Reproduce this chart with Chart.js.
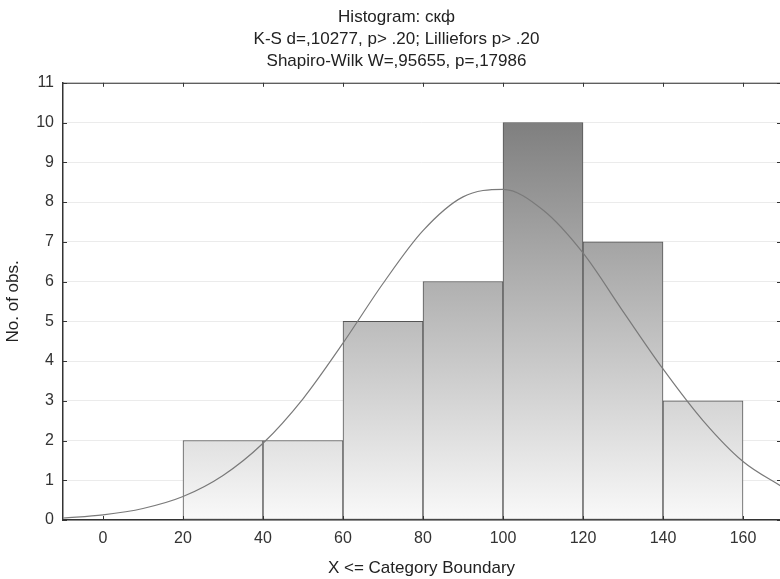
<!DOCTYPE html>
<html>
<head>
<meta charset="utf-8">
<script src="https://cdn.jsdelivr.net/npm/chart.js@4.4.1/dist/chart.umd.min.js"></script>
<style>
  html, body { margin: 0; padding: 0; background: #fff; }
  #wrap { width: 780px; height: 579px; }
</style>
</head>
<body>
<div id="wrap"><canvas id="hist"></canvas></div>
<script>
// bin centres (bins are 20 wide) and observed counts
var binCentres = [30, 50, 70, 90, 110, 130, 150];
var counts = [2, 2, 5, 6, 10, 7, 3];

// expected normal curve, read every 10 units
var curveX = [-10, 0, 10, 20, 30, 40, 50, 60, 70, 80, 90, 100, 110, 120, 130, 140, 150, 160, 170];
var curveY = [0.05, 0.13, 0.29, 0.59, 1.12, 1.93, 3.05, 4.45, 5.95, 7.28, 8.13, 8.32, 7.8, 6.72, 5.25, 3.8, 2.5, 1.47, 0.82];

var xTicks = [0, 20, 40, 60, 80, 100, 120, 140, 160];
var yTicks = [0, 1, 2, 3, 4, 5, 6, 7, 8, 9, 10, 11];

var titleLines = [
  "Histogram: скф",
  "K-S d=,10277, p> .20; Lilliefors p> .20",
  "Shapiro-Wilk W=,95655, p=,17986"
];

var FONT = "'Liberation Sans', Arial, sans-serif";

var barData = binCentres.map(function (x, i) { return { x: x, y: counts[i] }; });
var lineData = curveX.map(function (x, i) { return { x: x, y: curveY[i] }; });

// vertical grey gradient: light at 0, dark grey at 10
function barGradient(context) {
  var chart = context.chart;
  if (!chart.chartArea) return "#ccc";
  var y = chart.scales.y;
  var g = chart.ctx.createLinearGradient(0, y.getPixelForValue(0), 0, y.getPixelForValue(10));
  g.addColorStop(0, "#f9f9f9");
  g.addColorStop(1, "#7f7f7f");
  return g;
}

// frame line on top and small inward tick marks
var frameTicks = {
  id: "frameTicks",
  afterLayout: function (chart) {
    // nudge the title block a little to the right
    if (chart.titleBlock) chart.titleBlock.left = 13;
  },
  afterDraw: function (chart) {
    var c = chart.ctx, a = chart.chartArea;
    var sx = chart.scales.x, sy = chart.scales.y;
    c.save();
    c.strokeStyle = "#333";
    c.lineWidth = 1;
    c.beginPath();
    c.moveTo(a.left, a.top + 0.5);
    c.lineTo(a.right, a.top + 0.5);
    xTicks.forEach(function (v) {
      var px = Math.round(sx.getPixelForValue(v)) + 0.5;
      c.moveTo(px, a.top);
      c.lineTo(px, a.top + 4);
      c.moveTo(px, a.bottom);
      c.lineTo(px, a.bottom - 4);
    });
    yTicks.forEach(function (v) {
      var py = Math.round(sy.getPixelForValue(v)) + 0.5;
      c.moveTo(a.left, py);
      c.lineTo(a.left + 4, py);
      c.moveTo(a.right, py);
      c.lineTo(a.right - 3, py);
    });
    c.stroke();
    c.restore();
  }
};

var ctx = document.getElementById("hist").getContext("2d");
new Chart(ctx, {
  type: "bar",
  data: {
    datasets: [
      {
        type: "line",
        data: lineData,
        borderColor: "#7a7a7a",
        borderWidth: 1.2,
        pointRadius: 0,
        cubicInterpolationMode: "monotone",
        fill: false,
        order: 0
      },
      {
        data: barData,
        backgroundColor: barGradient,
        borderColor: "#555",
        borderWidth: 1,
        borderSkipped: false,
        barPercentage: 1,
        categoryPercentage: 1,
        order: 1
      }
    ]
  },
  options: {
    responsive: true,
    maintainAspectRatio: false,
    animation: false,
    layout: { padding: { left: 0, right: 0, top: 0, bottom: 0 } },
    plugins: {
      legend: { display: false },
      tooltip: { enabled: false },
      title: {
        display: true,
        text: titleLines,
        color: "#222",
        font: { family: FONT, size: 17, weight: "normal", lineHeight: 1.29 },
        padding: { top: 6, bottom: 11 }
      }
    },
    scales: {
      x: {
        type: "linear",
        min: -10,
        max: 169.25,
        offset: false,
        afterBuildTicks: function (s) { s.ticks = xTicks.map(function (v) { return { value: v }; }); },
        afterFit: function (s) { s.height = 59; },
        grid: { display: false, drawTicks: false },
        border: { color: "#333", width: 1.5 },
        ticks: {
          color: "#333",
          padding: 9,
          maxRotation: 0,
          font: { family: FONT, size: 16 }
        },
        title: {
          display: true,
          text: "X <= Category Boundary",
          color: "#222",
          padding: { top: 0, bottom: 0 },
          font: { family: FONT, size: 17 }
        }
      },
      y: {
        min: 0,
        max: 11,
        afterBuildTicks: function (s) { s.ticks = yTicks.map(function (v) { return { value: v }; }); },
        afterFit: function (s) { s.width = 63; },
        grid: { color: "#ebebeb", lineWidth: 1, drawTicks: false },
        border: { color: "#333", width: 1.5 },
        ticks: {
          color: "#333",
          padding: 9,
          font: { family: FONT, size: 16 }
        },
        title: {
          display: true,
          text: "No. of obs.",
          color: "#222",
          padding: { top: 3, bottom: 0 },
          font: { family: FONT, size: 17 }
        }
      }
    }
  },
  plugins: [frameTicks]
});
</script>
</body>
</html>
